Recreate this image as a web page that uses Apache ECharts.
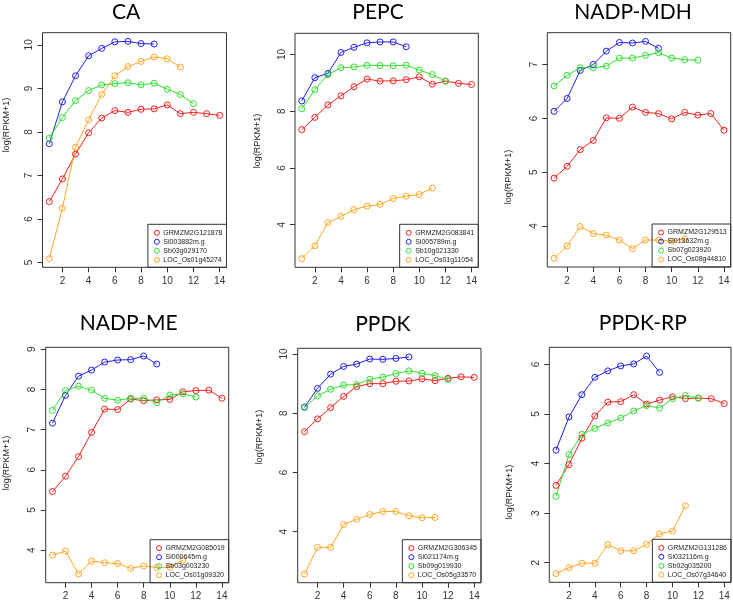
<!DOCTYPE html>
<html>
<head>
<meta charset="utf-8">
<script src="https://cdn.jsdelivr.net/npm/echarts@6/dist/echarts.min.js"></script>
<style>html,body{margin:0;padding:0;background:#fff}#c{width:733px;height:603px}</style>
</head>
<body>
<div id="c"></div>
<script>
// ---- data ----
const xTicks = [2, 4, 6, 8, 10, 12, 14];
const titles = ['CA', 'PEPC', 'NADP-MDH', 'NADP-ME', 'PPDK', 'PPDK-RP'];
const yTicks = [
  [5, 6, 7, 8, 9, 10],
  [4, 6, 8, 10],
  [4, 5, 6, 7],
  [4, 5, 6, 7, 8, 9],
  [4, 6, 8, 10],
  [2, 3, 4, 5, 6]
];
const genes = [
  ['GRMZM2G121878', 'Si003882m.g', 'Sb03g029170', 'LOC_Os01g45274'],
  ['GRMZM2G083841', 'Si005789m.g', 'Sb10g021330', 'LOC_Os01g11054'],
  ['GRMZM2G129513', 'Si013632m.g', 'Sb07g023920', 'LOC_Os08g44810'],
  ['GRMZM2G085019', 'Si000645m.g', 'Sb03g003230', 'LOC_Os01g09320'],
  ['GRMZM2G306345', 'Si021174m.g', 'Sb09g019930', 'LOC_Os05g33570'],
  ['GRMZM2G131286', 'Si032116m.g', 'Sb02g035200', 'LOC_Os07g34640']
];
// CA
const caRed    = [6.40, 6.92, 7.49, 7.98, 8.32, 8.49, 8.45, 8.52, 8.53, 8.62, 8.42, 8.45, 8.42, 8.38];
const caBlue   = [7.73, 8.69, 9.29, 9.75, 9.92, 10.07, 10.08, 10.03, 10.02];
const caGreen  = [7.86, 8.33, 8.72, 8.95, 9.08, 9.11, 9.13, 9.08, 9.12, 8.98, 8.86, 8.65];
const caOrange = [5.09, 6.25, 7.65, 8.28, 8.86, 9.29, 9.50, 9.62, 9.72, 9.68, 9.49];
// PEPC
const pepcRed    = [7.35, 7.78, 8.22, 8.54, 8.86, 9.13, 9.06, 9.07, 9.11, 9.21, 8.95, 9.06, 8.98, 8.94];
const pepcBlue   = [8.36, 9.18, 9.33, 10.07, 10.25, 10.41, 10.44, 10.44, 10.27];
const pepcGreen  = [8.09, 8.76, 9.29, 9.53, 9.56, 9.62, 9.61, 9.60, 9.62, 9.45, 9.29, 9.06];
const pepcOrange = [2.80, 3.25, 4.07, 4.29, 4.53, 4.65, 4.71, 4.92, 5.00, 5.06, 5.29];
// NADP-MDH
const mdhRed    = [4.89, 5.11, 5.42, 5.59, 6.01, 6.00, 6.21, 6.11, 6.09, 5.99, 6.11, 6.06, 6.09, 5.78];
const mdhBlue   = [6.13, 6.37, 6.89, 7.00, 7.25, 7.41, 7.40, 7.43, 7.30];
const mdhGreen  = [6.60, 6.80, 6.94, 6.94, 6.97, 7.12, 7.12, 7.17, 7.22, 7.12, 7.09, 7.08];
const mdhOrange = [3.40, 3.63, 3.99, 3.86, 3.83, 3.74, 3.58, 3.74, 3.74, 3.72, 3.76];
// NADP-ME
const meRed    = [5.46, 5.84, 6.33, 6.93, 7.51, 7.50, 7.76, 7.72, 7.74, 7.75, 7.94, 7.97, 7.98, 7.78];
const meBlue   = [7.16, 7.85, 8.33, 8.48, 8.68, 8.73, 8.74, 8.83, 8.63];
const meGreen  = [7.48, 7.97, 8.08, 7.98, 7.78, 7.73, 7.78, 7.78, 7.67, 7.86, 7.89, 7.81];
const meOrange = [3.88, 3.98, 3.41, 3.73, 3.69, 3.67, 3.55, 3.61, 3.57, 3.58, 3.75];
// PPDK
const ppdkRed    = [7.38, 7.81, 8.19, 8.57, 8.90, 9.00, 9.00, 9.08, 9.09, 9.16, 9.10, 9.18, 9.23, 9.21];
const ppdkBlue   = [8.21, 8.84, 9.32, 9.58, 9.66, 9.83, 9.82, 9.85, 9.90];
const ppdkGreen  = [8.19, 8.59, 8.81, 8.95, 8.97, 9.15, 9.22, 9.34, 9.43, 9.35, 9.27, 9.14];
const ppdkOrange = [2.57, 3.47, 3.47, 4.24, 4.42, 4.58, 4.68, 4.68, 4.54, 4.47, 4.48];
// PPDK-RP
const rpRed    = [3.56, 3.98, 4.51, 4.96, 5.24, 5.25, 5.39, 5.20, 5.28, 5.35, 5.31, 5.32, 5.31, 5.21];
const rpBlue   = [4.27, 4.94, 5.39, 5.74, 5.87, 5.97, 6.01, 6.17, 5.84];
const rpGreen  = [3.34, 4.18, 4.59, 4.71, 4.82, 4.92, 5.06, 5.17, 5.12, 5.31, 5.37, 5.32];
const rpOrange = [1.78, 1.90, 1.99, 1.99, 2.36, 2.24, 2.24, 2.37, 2.58, 2.64, 3.15];

const panelData = [
  [caRed, caBlue, caGreen, caOrange],
  [pepcRed, pepcBlue, pepcGreen, pepcOrange],
  [mdhRed, mdhBlue, mdhGreen, mdhOrange],
  [meRed, meBlue, meGreen, meOrange],
  [ppdkRed, ppdkBlue, ppdkGreen, ppdkOrange],
  [rpRed, rpBlue, rpGreen, rpOrange]
];

// ---- layout / style ----
const colors = ['#f02020', '#2020e6', '#2ee02e', '#ffa624'];
const boxes = [ // left, top, right, bottom of plot boxes
  [42.5, 32.7, 226.5, 267.3],
  [295, 33.3, 478.3, 267.3],
  [547.3, 32.7, 730.7, 267],
  [45.7, 347.3, 228.7, 582.7],
  [297.7, 348.3, 481, 582.7],
  [549.3, 347.3, 731, 582.3]
];
const titlePos = [[126, 12], [378, 12], [633, 12], [128.7, 323.5], [382.8, 324], [642.8, 323.5]];
const ylabPos = [[7, 125], [258, 141], [509, 177], [7, 463], [260, 437], [510, 492]];

const grids = [], xAxes = [], yAxes = [], series = [], legends = [], graphics = [];
const axisFont = 'Liberation Sans';
panelData.forEach((arrs, p) => {
  const b = boxes[p];
  grids.push({left: b[0], top: b[1], width: b[2] - b[0], height: b[3] - b[1],
    show: true, borderColor: '#333', borderWidth: 1, backgroundColor: 'transparent', containLabel: false});
  let lo = Infinity, hi = -Infinity;
  arrs.forEach(a => a.forEach(v => { lo = Math.min(lo, v); hi = Math.max(hi, v); }));
  const ext = (hi - lo) * 0.04;
  xAxes.push({type: 'value', gridIndex: p, min: 1 - 13 * 0.04, max: 14 + 13 * 0.04,
    axisLine: {show: false}, splitLine: {show: false},
    axisTick: {show: true, inside: false, length: 5, lineStyle: {color: '#333'}, customValues: xTicks},
    axisLabel: {show: true, margin: 9, fontSize: 10, fontFamily: axisFont, color: '#333', customValues: xTicks}
  });
  yAxes.push({type: 'value', gridIndex: p, min: lo - ext, max: hi + ext,
    axisLine: {show: false}, splitLine: {show: false},
    axisTick: {show: true, inside: false, length: 5, lineStyle: {color: '#333'}, customValues: yTicks[p]},
    axisLabel: {show: true, margin: 8, rotate: 90, fontSize: 10, fontFamily: axisFont, color: '#333', customValues: yTicks[p]}
  });
  arrs.forEach((a, s) => {
    series.push({
      type: 'line', name: genes[p][s], xAxisIndex: p, yAxisIndex: p,
      data: a.map((v, i) => [i + 1, v]),
      symbol: 'circle', symbolSize: 6, showSymbol: true,
      lineStyle: {color: colors[s], width: 1},
      itemStyle: {color: 'rgba(255,255,255,0)', borderColor: colors[s], borderWidth: 1},
      emphasis: {disabled: true}, animation: false, z: 2
    });
  });
  legends.push({
    data: genes[p].map((g, s) => ({name: g, icon: 'circle',
      itemStyle: {color: 'rgba(255,255,255,0)', borderColor: colors[s], borderWidth: 1}})),
    orient: 'vertical', right: 733 - b[2], bottom: 603 - b[3],
    itemWidth: 5, itemHeight: 5, itemGap: 2,
    padding: [5, 4, 4, 6], borderColor: '#333', borderWidth: 1, backgroundColor: 'transparent',
    selectedMode: false,
    textStyle: {fontSize: 7, fontFamily: axisFont, color: '#222', padding: [0, 0, 0, -1]}
  });
  graphics.push({type: 'text', x: titlePos[p][0], y: titlePos[p][1],
    style: {text: titles[p], font: '21px Lato', fill: '#000', align: 'center', verticalAlign: 'middle'}});
  graphics.push({type: 'text', x: ylabPos[p][0], y: ylabPos[p][1], rotation: Math.PI / 2,
    style: {text: 'log(RPKM+1)', font: '9px "Liberation Sans"', fill: '#222', align: 'center', verticalAlign: 'middle'}});
});

const chart = echarts.init(document.getElementById('c'), null, {renderer: 'canvas'});
chart.setOption({
  animation: false,
  backgroundColor: '#fff',
  grid: grids, xAxis: xAxes, yAxis: yAxes, series: series, legend: legends,
  graphic: graphics
});
</script>
</body>
</html>
